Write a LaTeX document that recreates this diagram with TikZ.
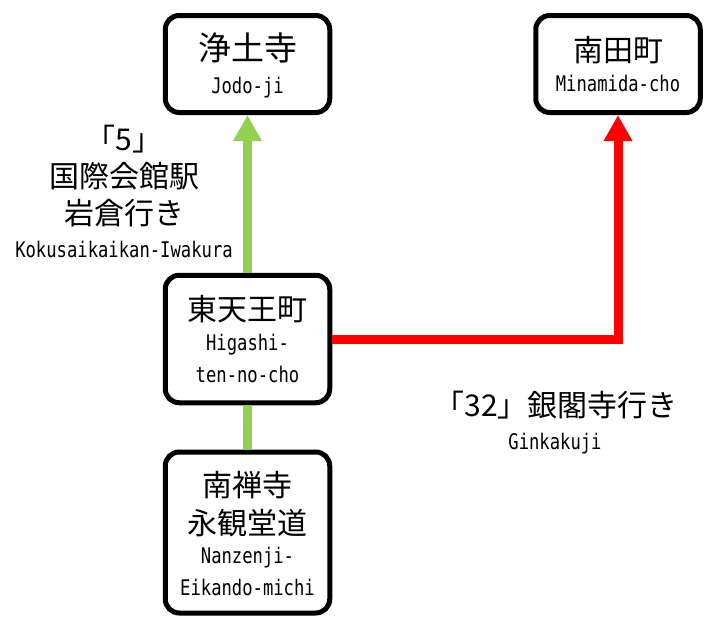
\documentclass[tikz,border=0pt]{standalone}
\usepackage{fontspec}
\usetikzlibrary{arrows.meta}
\newfontfamily\jpfont{Noto Sans CJK JP}
\newfontfamily\latfont[FakeStretch=0.8]{DejaVu Sans Mono}
\definecolor{lgreen}{RGB}{146,208,80}
\definecolor{rred}{RGB}{255,0,0}
\tikzset{
  stationbox/.style={draw=black, line width=5pt, rounded corners=14pt, fill=white, minimum width=164.5pt, inner sep=0pt},
  jptext/.style={font=\jpfont\fontsize{30}{34}\selectfont, inner sep=0pt, text height=26.4pt, text depth=3.6pt},
  jpbig/.style={font=\jpfont\fontsize{33}{38}\selectfont, inner sep=0pt, text height=29pt, text depth=4pt},
  lattext/.style={font=\latfont\fontsize{21.5}{26}\selectfont, inner sep=0pt, text height=15.7pt, text depth=0pt},
  greenline/.style={draw=lgreen, line width=9pt},
  redline/.style={draw=rred, line width=9pt},
  bigtip/.style={-{Triangle[length=26pt,width=27pt]}}
}
\begin{document}
\begin{tikzpicture}[x=1pt,y=-1pt]
\path[use as bounding box] (0,0) rectangle (722,632);
\node[stationbox, minimum height=97pt] (b1) at (247.5,64) {};
\node[stationbox, minimum height=97pt] (b2) at (618,64) {};
\node[stationbox, minimum height=127.5pt] (b3) at (247.5,339) {};
\node[stationbox, minimum height=161pt] (b4) at (247.5,532.5) {};
\draw[greenline, bigtip] (b3.north) -- (b1.south);
\draw[greenline] (b4.north) -- (b3.south);
\draw[redline, bigtip] (b3.east) -| (b2.south);
\node[jpbig] (t1a) at (247.5,48) {浄土寺};
\node[lattext] (t1b) at (247.5,86) {Jodo-ji};
\node[jptext] (t2a) at (618,50) {南田町};
\node[lattext] (t2b) at (618,84) {Minamida-cho};
\node[jptext] (t3a) at (247.5,309) {東天王町};
\node[lattext] (t3b) at (247.5,343) {Higashi-};
\node[lattext] (t3c) at (247.5,375) {ten-no-cho};
\node[jptext] (t4a) at (247.5,485) {南禅寺};
\node[jptext] (t4b) at (247.5,523) {永観堂道};
\node[lattext] (t4c) at (247.5,556) {Nanzenji-};
\node[lattext] (t4d) at (247.5,588) {Eikando-michi};
\node[jptext] (l1a) at (124,139) {「5」};
\node[jptext] (l1b) at (124,176) {国際会館駅};
\node[jptext] (l1c) at (124,213) {岩倉行き};
\node[lattext] (l1d) at (124,250) {Kokusaikaikan-Iwakura};
\node[jptext] (l2a) at (556,405) {「32」銀閣寺行き};
\node[lattext] (l2b) at (555,442) {Ginkakuji};
\end{tikzpicture}
\end{document}
